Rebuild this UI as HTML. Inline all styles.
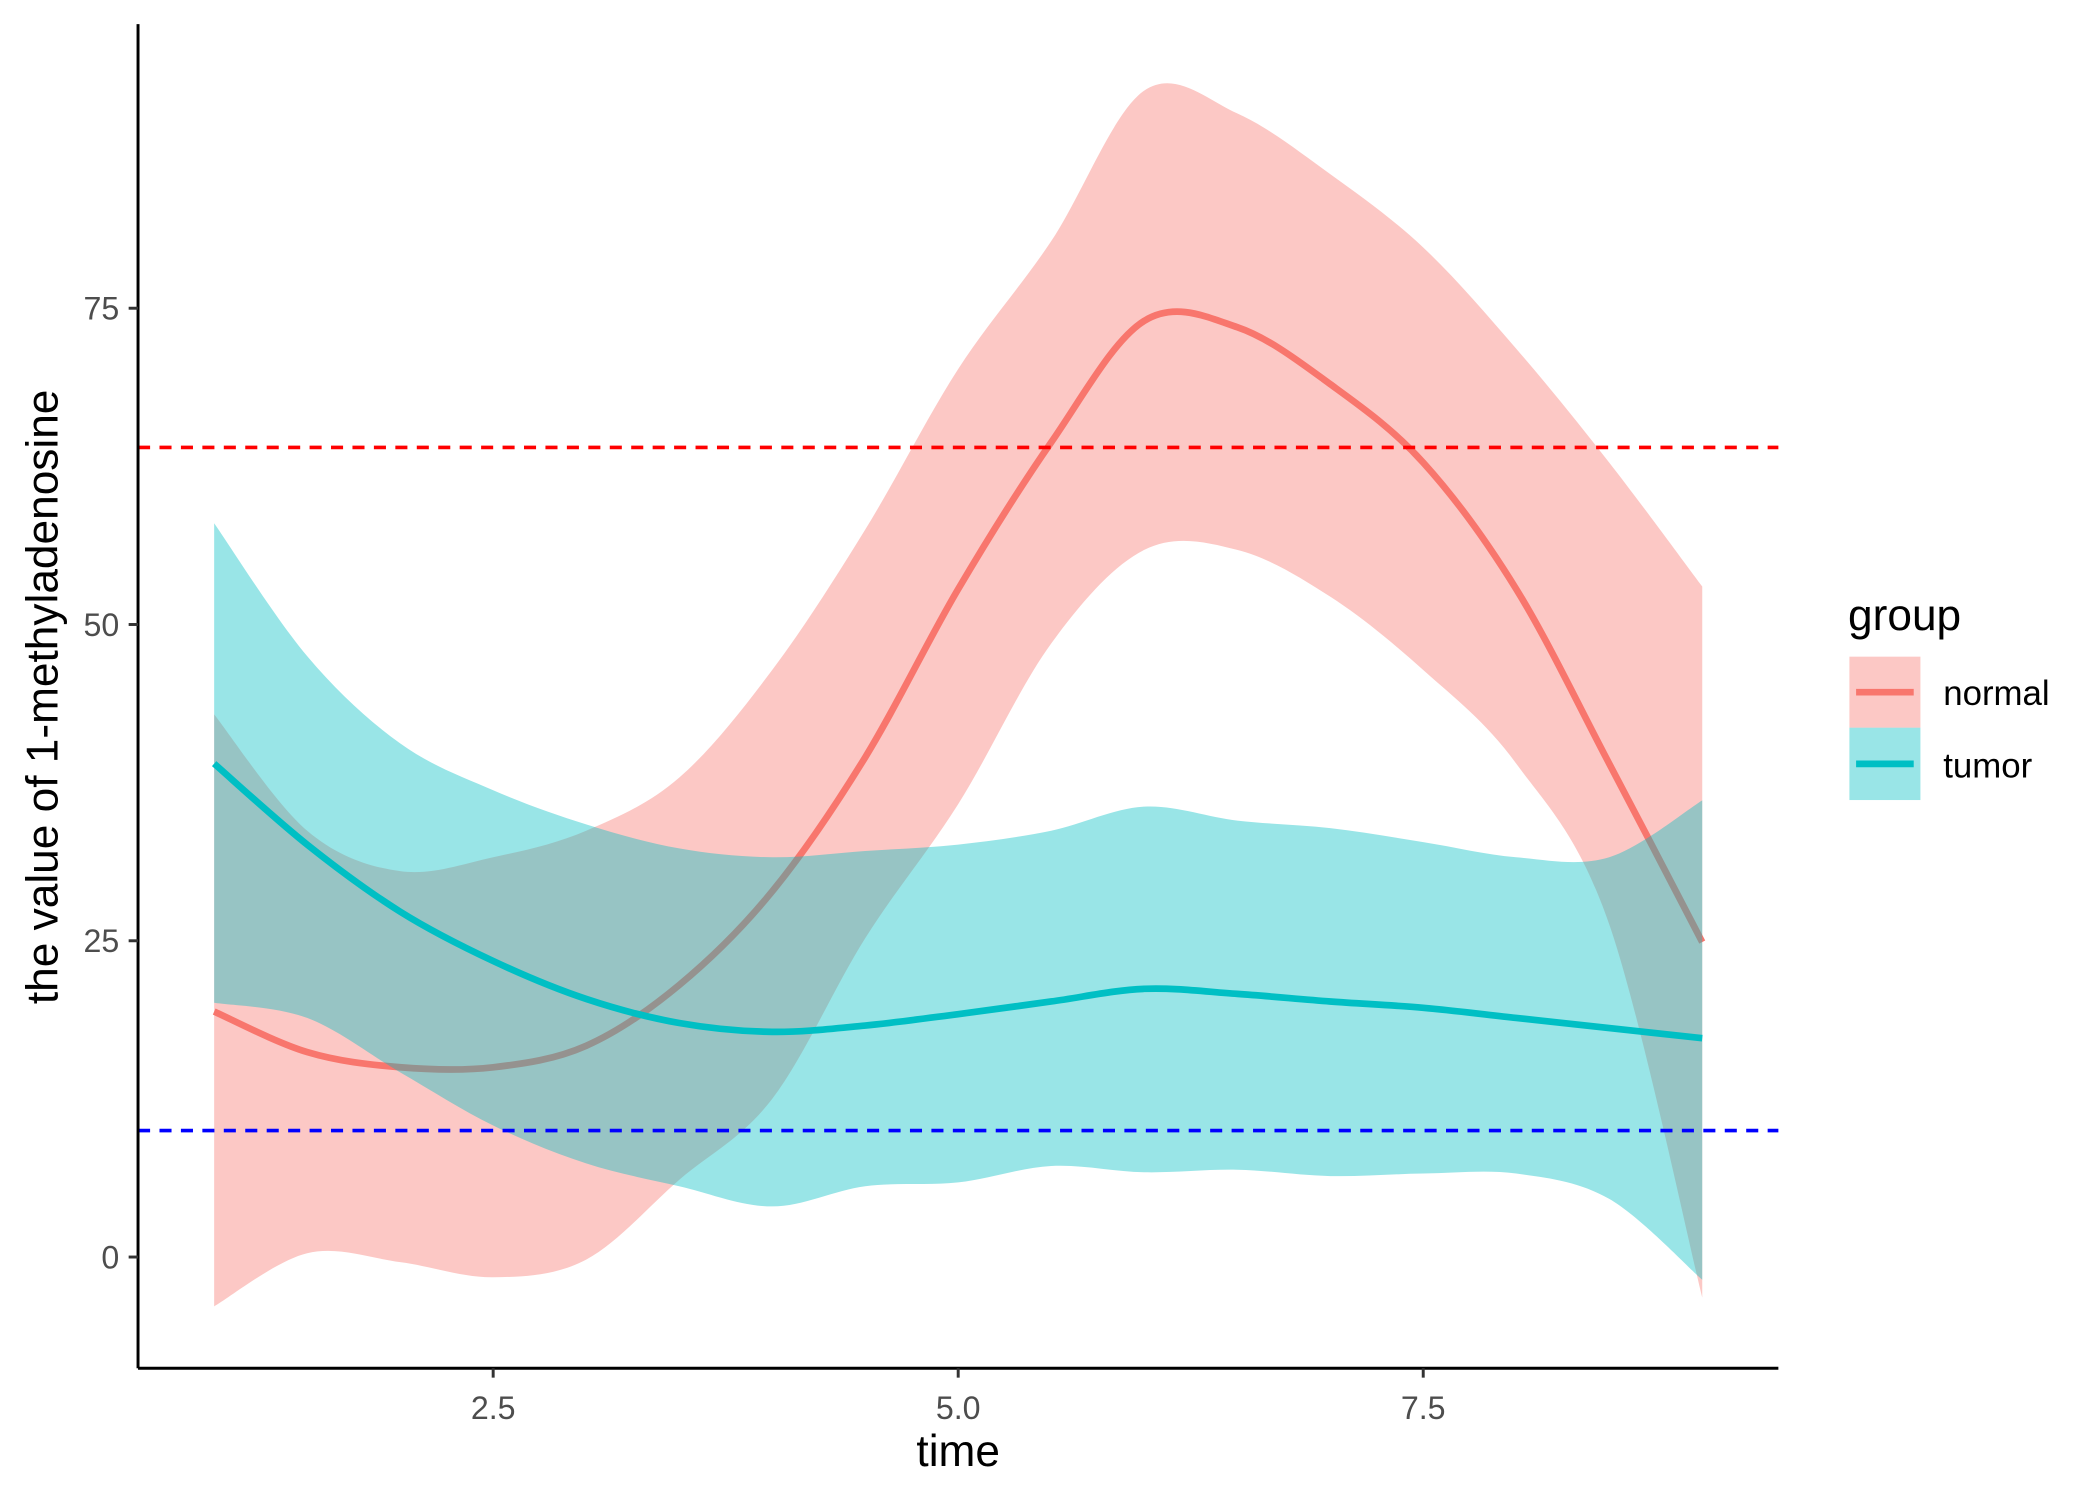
<!DOCTYPE html>
<html><head><meta charset="utf-8"><style>
html,body{margin:0;padding:0;background:#fff}
svg{display:block}
text{font-family:"Liberation Sans",sans-serif}
</style></head><body>
<svg id="chart" width="2100" height="1500" viewBox="0 0 1567 1119.3" preserveAspectRatio="none" xmlns="http://www.w3.org/2000/svg">
<g id="plot"></g>
<line x1="103" y1="18" x2="103" y2="1021" stroke="#000" stroke-width="2.2"/>
<line x1="103" y1="1021" x2="1327" y2="1021" stroke="#000" stroke-width="2.2"/>
<g id="ticks"></g>
<text x="715" y="1094" font-size="33" text-anchor="middle" fill="#000">time</text>
<text transform="translate(43,520) rotate(-90)" font-size="33" text-anchor="middle" fill="#000">the value of 1-methyladenosine</text>
<g>
<text x="1379" y="470" font-size="33" fill="#000">group</text>
<g>
<rect x="1380" y="490" width="53" height="53" fill="#F8766D" fill-opacity="0.4"/>
<line x1="1385" y1="516.5" x2="1428" y2="516.5" stroke="#F8766D" stroke-width="5"/>
<text x="1450" y="526" font-size="26" fill="#000">normal</text></g>
<g>
<rect x="1380" y="543" width="53" height="54" fill="#00BFC4" fill-opacity="0.4"/>
<line x1="1385" y1="570" x2="1428" y2="570" stroke="#00BFC4" stroke-width="5"/>
<text x="1450" y="580" font-size="26" fill="#000">tumor</text></g>
</g>
</svg>
<script>
const xs=[1,1.5,2,2.5,3,3.5,4,4.5,5,5.5,6,6.5,7,7.5,8,8.5,9];
const normalMean=[19.4,16.2,15,15,16.7,21.5,28.9,39.5,52.8,64.4,74,73.5,69,62.8,52.8,39,24.9];
const normalUpper=[42.9,33.7,30.5,31.6,33.7,37.9,46.4,57.5,70.2,80.3,92.2,90.4,85.6,79.8,71.8,62.8,53];
const normalLower=[-3.9,0.3,-0.4,-1.6,-0.2,6.1,12.5,25.2,35.8,48.5,55.9,55.9,52.2,46.4,39,26.3,-3.2];
const tumorMean=[39,32.6,27.3,23.4,20.4,18.5,17.8,18.3,19.2,20.2,21.2,20.8,20.2,19.7,18.9,18.1,17.3];
const tumorUpper=[58,47.5,40.6,36.9,34.2,32.3,31.6,32.1,32.6,33.7,35.6,34.5,33.9,32.8,31.6,31.6,36.1];
const tumorLower=[20.1,18.9,14.6,10.4,7.4,5.6,4,5.6,5.9,7.2,6.7,6.9,6.4,6.6,6.6,4.6,-1.8];
const hlines=[64,10];
const xTicks=[2.5,5.0,7.5];
const yTicks=[0,25,50,75];
const sx=v=>715+(v-5)*138.8;
const sy=v=>938-v*9.44;
const NS='http://www.w3.org/2000/svg';
function cr(pts,move){let d=move?`M${pts[0][0]},${pts[0][1]}`:`L${pts[0][0]},${pts[0][1]}`;
for(let i=0;i<pts.length-1;i++){const p0=pts[Math.max(i-1,0)],p1=pts[i],p2=pts[i+1],p3=pts[Math.min(i+2,pts.length-1)];
d+=`C${p1[0]+(p2[0]-p0[0])/6},${p1[1]+(p2[1]-p0[1])/6} ${p2[0]-(p3[0]-p1[0])/6},${p2[1]-(p3[1]-p1[1])/6} ${p2[0]},${p2[1]}`;}return d;}
const plot=document.getElementById('plot');
function ribbon(up,lo,col,name){const a=xs.map((x,i)=>[sx(x),sy(up[i])]);const b=xs.map((x,i)=>[sx(x),sy(lo[i])]).reverse();
const p=document.createElementNS(NS,'path');p.setAttribute('d',cr(a,true)+cr(b,false)+'Z');p.setAttribute('fill',col);p.setAttribute('fill-opacity','0.4');


plot.appendChild(p);}
function line(m,col,name){const p=document.createElementNS(NS,'path');p.setAttribute('d',cr(xs.map((x,i)=>[sx(x),sy(m[i])]),true));
p.setAttribute('fill','none');p.setAttribute('stroke',col);p.setAttribute('stroke-width','5');


plot.appendChild(p);}
ribbon(normalUpper,normalLower,'#F8766D','normal-ribbon');
line(normalMean,'#F8766D','normal-line');
ribbon(tumorUpper,tumorLower,'#00BFC4','tumor-ribbon');
line(tumorMean,'#00BFC4','tumor-line');
const hcols=['#FF0000','#0000FF'];
hlines.forEach((v,i)=>{const l=document.createElementNS(NS,'line');l.setAttribute('x1',103);l.setAttribute('x2',1327);l.setAttribute('y1',sy(v));l.setAttribute('y2',sy(v));
l.setAttribute('stroke',hcols[i]);l.setAttribute('stroke-width','2.7');l.setAttribute('stroke-dasharray','9 7');


plot.appendChild(l);});
const tk=document.getElementById('ticks');
xTicks.forEach(v=>{const l=document.createElementNS(NS,'line');l.setAttribute('x1',sx(v));l.setAttribute('x2',sx(v));l.setAttribute('y1',1021);l.setAttribute('y2',1028);l.setAttribute('stroke','#333');l.setAttribute('stroke-width','2.2');


tk.appendChild(l);
const t=document.createElementNS(NS,'text');t.setAttribute('x',sx(v));t.setAttribute('y',1059);t.setAttribute('font-size','24');t.setAttribute('text-anchor','middle');t.setAttribute('fill','#4d4d4d');t.textContent=v.toFixed(1);


tk.appendChild(t);});
yTicks.forEach(v=>{const l=document.createElementNS(NS,'line');l.setAttribute('x1',96);l.setAttribute('x2',103);l.setAttribute('y1',sy(v));l.setAttribute('y2',sy(v));l.setAttribute('stroke','#333');l.setAttribute('stroke-width','2.2');


tk.appendChild(l);
const t=document.createElementNS(NS,'text');t.setAttribute('x',89);t.setAttribute('y',sy(v)+8.5);t.setAttribute('font-size','24');t.setAttribute('text-anchor','end');t.setAttribute('fill','#4d4d4d');t.textContent=v;


tk.appendChild(t);});
</script>
</body></html>
